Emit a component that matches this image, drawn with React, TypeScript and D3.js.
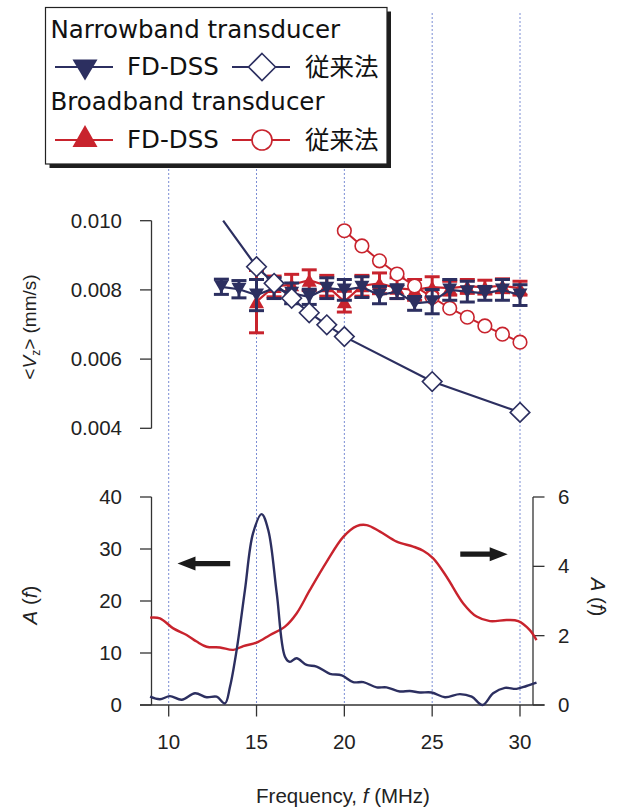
import React from "react";
import * as d3 from "d3";

// ---------- data ----------
const xTicks = [10, 15, 20, 25, 30];
const vzTicks = [0.004, 0.006, 0.008, 0.01];
const aLeftTicks = [0, 10, 20, 30, 40];
const aRightTicks = [0, 2, 4, 6];

// Narrowband FD-DSS
const nbFreq = [13, 14, 15, 16, 17, 18, 19, 20, 21, 22, 23, 24, 25, 26, 27, 28, 29, 30];
const nbVz = [0.00809, 0.00802, 0.00785, 0.00805, 0.0079, 0.0078, 0.00805, 0.008, 0.00808, 0.00785, 0.00795, 0.00761, 0.00766, 0.008, 0.00795, 0.0079, 0.008, 0.00785];
const nbErr = [0.00022, 0.00025, 0.00045, 0.0003, 0.0003, 0.00022, 0.0003, 0.0003, 0.0003, 0.00025, 0.0002, 0.0002, 0.00035, 0.0003, 0.0003, 0.0002, 0.0003, 0.0003];

// Broadband FD-DSS
const bbFreq = [15, 16, 17, 18, 19, 20, 21, 22, 23, 24, 25, 26, 27, 28, 29, 30];
const bbVz = [0.00766, 0.0081, 0.00815, 0.00828, 0.00812, 0.00766, 0.00812, 0.00819, 0.00805, 0.008, 0.00808, 0.00805, 0.0081, 0.00808, 0.00812, 0.00805];
const bbErr = [0.0009, 0.0003, 0.0003, 0.0003, 0.0003, 0.0003, 0.0003, 0.0003, 0.0003, 0.0003, 0.0003, 0.0002, 0.0002, 0.0002, 0.0002, 0.0002];

// Narrowband conventional (diamonds); line starts above the plot edge
const nbConvLineFreq = [13.1, 15, 16, 17, 18, 19, 20, 25, 30];
const nbConvLineVz = [0.01, 0.00867, 0.00819, 0.00776, 0.00734, 0.00699, 0.00665, 0.00535, 0.00446];
const nbConvFreq = [15, 16, 17, 18, 19, 20, 25, 30];
const nbConvVz = [0.00867, 0.00819, 0.00776, 0.00734, 0.00699, 0.00665, 0.00535, 0.00446];

// Broadband conventional (circles)
const bbConvFreq = [20, 21, 22, 23, 24, 25, 26, 27, 28, 29, 30];
const bbConvVz = [0.00971, 0.00927, 0.00884, 0.00846, 0.00811, 0.00779, 0.00747, 0.00721, 0.00696, 0.00672, 0.00649];

// Spectra
const nbSpecFreq = [8.94, 9.5, 10.07, 10.74, 11.5, 12.16, 12.73, 13.2, 13.49, 13.87, 14.34, 14.8, 15.29, 15.67, 16.15, 16.62, 16.9, 17.28, 17.85, 18.42, 19.18, 19.85, 20.5, 21.08, 21.84, 22.4, 23.16, 23.73, 24.3, 24.97, 25.73, 26.58, 27.25, 27.87, 28.47, 29.14, 29.8, 30.37, 30.94];
const nbSpecA = [1.6, 1.1, 1.7, 1.0, 2.25, 1.5, 1.6, 0.3, 3.5, 10.6, 22.1, 33, 36.7, 33.6, 21.5, 9.3, 8.3, 9.0, 7.7, 7.4, 6.0, 5.7, 4.4, 4.4, 3.4, 3.4, 2.6, 2.7, 2.4, 2.4, 1.5, 2.1, 1.6, 0, 2.25, 3.3, 3.1, 3.65, 4.3];
const bbSpecFreq = [8.94, 9.5, 10.26, 11.02, 11.59, 12.16, 12.92, 13.68, 14.25, 15.0, 15.77, 16.62, 17.28, 18.04, 18.99, 19.94, 20.7, 21.27, 22.03, 22.98, 23.92, 24.49, 25.06, 25.82, 26.77, 27.53, 28.29, 29.24, 29.9, 30.56, 30.94];
const bbSpecA = [2.52, 2.5, 2.21, 2.02, 1.83, 1.68, 1.66, 1.59, 1.7, 1.8, 2.02, 2.26, 2.64, 3.32, 4.13, 4.85, 5.16, 5.19, 5.0, 4.71, 4.57, 4.45, 4.23, 3.7, 2.93, 2.55, 2.42, 2.45, 2.42, 2.16, 1.87];

// Arrow annotations (frequency from -> to, at A value on left axis)
const leftArrowF = [13.5, 10.5];
const leftArrowA = 27.2;
const rightArrowF = [26.6, 29.3];
const rightArrowA = 29.0;

// ---------- styling ----------
const NAVY = "#2c2f60";
const RED = "#c8232d";
const GRID = "#7a8dd4";
const AXIS = "#333";
const NUMFONT = "'Liberation Sans', Arial, Helvetica, sans-serif";
const LEGFONT = "'DejaVu Sans', 'Noto Sans CJK JP', sans-serif";

export default function App() {
  const W = 617;
  const H = 810;
  const x = d3.scaleLinear().domain([10, 30]).range([168.7, 520]);
  const yTop = d3.scaleLinear().domain([0.004, 0.01]).range([428.3, 220.7]);
  const yL = d3.scaleLinear().domain([0, 40]).range([705, 497]);
  const yR = d3.scaleLinear().domain([0, 6]).range([705, 497]);
  const axL = 151.5;
  const axR = 533;

  const lineTop = d3
    .line<[number, number]>()
    .x((d) => x(d[0]))
    .y((d) => yTop(d[1]));
  const specL = d3
    .line<[number, number]>()
    .x((d) => x(d[0]))
    .y((d) => yL(d[1]))
    .curve(d3.curveCatmullRom.alpha(0.5));
  const specR = d3
    .line<[number, number]>()
    .x((d) => x(d[0]))
    .y((d) => yR(d[1]))
    .curve(d3.curveCatmullRom.alpha(0.5));

  const zip = (a: number[], b: number[]) => a.map((v, i) => [v, b[i]] as [number, number]);

  const triDown = (cx: number, cy: number, hw: number, h: number) =>
    `M${cx - hw},${cy - h / 2}L${cx + hw},${cy - h / 2}L${cx},${cy + h / 2}Z`;
  const triUp = (cx: number, cy: number, hw: number, h: number) =>
    `M${cx - hw},${cy + h / 2}L${cx + hw},${cy + h / 2}L${cx},${cy - h / 2}Z`;
  const diamond = (cx: number, cy: number, r: number) =>
    `M${cx},${cy - r}L${cx + r},${cy}L${cx},${cy + r}L${cx - r},${cy}Z`;

  const errBars = (fr: number[], vz: number[], er: number[], color: string) =>
    fr.map((f, i) => {
      const cx = x(f);
      const y1 = yTop(vz[i] + er[i]);
      const y2 = yTop(vz[i] - er[i]);
      return (
        <g key={i} stroke={color} strokeWidth={3}>
          <line x1={cx} x2={cx} y1={y1} y2={y2} />
          <line x1={cx - 7.5} x2={cx + 7.5} y1={y1} y2={y1} />
          <line x1={cx - 7.5} x2={cx + 7.5} y1={y2} y2={y2} />
        </g>
      );
    });

  const arrow = (fFrom: number, fTo: number, a: number) => {
    const x0 = x(fFrom);
    const x1 = x(fTo);
    const yy = yL(a);
    const dir = Math.sign(x1 - x0);
    const headLen = 18;
    const xb = x1 - dir * headLen;
    return (
      <path
        d={`M${x0},${yy - 2.6}L${xb},${yy - 2.6}L${xb},${yy - 7}L${x1},${yy}L${xb},${yy + 7}L${xb},${yy + 2.6}L${x0},${yy + 2.6}Z`}
        fill="#1a1a1a"
      />
    );
  };

  return (
    <svg
      width={W}
      height={H}
      viewBox={`0 0 ${W} ${H}`}
      style={{ position: "absolute", left: 0, top: 0, background: "#fff" }}
    >
      <rect x={0} y={0} width={W} height={H} fill="#fff" />

      {/* vertical dotted guide lines */}
      {xTicks.map((t) => (
        <line
          key={"g" + t}
          x1={x(t)}
          x2={x(t)}
          y1={13}
          y2={705}
          stroke={GRID}
          strokeWidth={1}
          strokeDasharray="2,2"
        />
      ))}

      {/* ---------- upper panel ---------- */}
      <line x1={axL} x2={axL} y1={yTop(0.004)} y2={yTop(0.01)} stroke={AXIS} strokeWidth={1.3} />
      {vzTicks.map((t) => (
        <g key={"vt" + t}>
          <line x1={axL - 11.5} x2={axL} y1={yTop(t)} y2={yTop(t)} stroke={AXIS} strokeWidth={1.3} />
          <text
            x={122}
            y={yTop(t) + 7}
            textAnchor="end"
            fontFamily={NUMFONT}
            fontSize={20.5}
            fill="#222"
          >
            {t.toFixed(3)}
          </text>
        </g>
      ))}
      <text
        transform={`translate(36,327) rotate(-90)`}
        textAnchor="middle"
        fontFamily={NUMFONT}
        fontSize={19}
        fill="#222"
      >
        {"<"}
        <tspan fontStyle="italic">V</tspan>
        <tspan fontSize={12} dy={4}>z</tspan>
        <tspan dy={-4}>{"> (mm/s)"}</tspan>
      </text>

      {/* broadband conventional circles line */}
      <path d={lineTop(zip(bbConvFreq, bbConvVz)) || ""} fill="none" stroke={RED} strokeWidth={2} />

      {/* broadband FD-DSS */}
      <path d={lineTop(zip(bbFreq, bbVz)) || ""} fill="none" stroke={RED} strokeWidth={2.2} />
      {errBars(bbFreq, bbVz, bbErr, RED)}
      {bbFreq.map((f, i) => (
        <path key={"bt" + i} d={triUp(x(f), yTop(bbVz[i]), 7.5, 13)} fill={RED} />
      ))}

      {/* broadband conventional circles */}
      {bbConvFreq.map((f, i) => (
        <circle key={"bc" + i} cx={x(f)} cy={yTop(bbConvVz[i])} r={6.8} fill="#fff" stroke={RED} strokeWidth={1.6} />
      ))}

      {/* narrowband FD-DSS */}
      <path d={lineTop(zip(nbFreq, nbVz)) || ""} fill="none" stroke={NAVY} strokeWidth={2.2} />
      {errBars(nbFreq, nbVz, nbErr, NAVY)}
      {nbFreq.map((f, i) => (
        <path key={"nt" + i} d={triDown(x(f), yTop(nbVz[i]), 7.5, 13)} fill={NAVY} />
      ))}

      {/* narrowband conventional diamonds */}
      <path d={lineTop(zip(nbConvLineFreq, nbConvLineVz)) || ""} fill="none" stroke={NAVY} strokeWidth={2.2} />
      {nbConvFreq.map((f, i) => (
        <path key={"nd" + i} d={diamond(x(f), yTop(nbConvVz[i]), 9.8)} fill="#fff" stroke={NAVY} strokeWidth={1.6} />
      ))}

      {/* ---------- lower panel ---------- */}
      <line x1={axL} x2={axL} y1={yL(0)} y2={yL(40)} stroke={AXIS} strokeWidth={1.3} />
      <line x1={axR} x2={axR} y1={yR(0)} y2={yR(6)} stroke={AXIS} strokeWidth={1.3} />
      <line x1={axL - 11.5} x2={axR + 11.5} y1={705} y2={705} stroke={AXIS} strokeWidth={1.3} />
      {aLeftTicks.map((t) => (
        <g key={"al" + t}>
          <line x1={axL - 11.5} x2={axL} y1={yL(t)} y2={yL(t)} stroke={AXIS} strokeWidth={1.3} />
          <text x={122} y={yL(t) + 7} textAnchor="end" fontFamily={NUMFONT} fontSize={20.5} fill="#222">
            {t}
          </text>
        </g>
      ))}
      {aRightTicks.map((t) => (
        <g key={"ar" + t}>
          <line x1={axR} x2={axR + 11.5} y1={yR(t)} y2={yR(t)} stroke={AXIS} strokeWidth={1.3} />
          <text x={558} y={yR(t) + 7} textAnchor="start" fontFamily={NUMFONT} fontSize={20.5} fill="#222">
            {t}
          </text>
        </g>
      ))}
      {xTicks.map((t) => (
        <g key={"xt" + t}>
          <line x1={x(t)} x2={x(t)} y1={705} y2={716.5} stroke={AXIS} strokeWidth={1.3} />
          <text x={x(t)} y={749} textAnchor="middle" fontFamily={NUMFONT} fontSize={20.5} fill="#222">
            {t}
          </text>
        </g>
      ))}
      <text x={343} y={803} textAnchor="middle" fontFamily={NUMFONT} fontSize={20.5} fill="#222">
        {"Frequency, "}
        <tspan fontStyle="italic">f</tspan>
        {" (MHz)"}
      </text>
      <text
        transform={`translate(37,605) rotate(-90)`}
        textAnchor="middle"
        fontFamily={NUMFONT}
        fontSize={20.5}
        fill="#222"
      >
        <tspan fontStyle="italic">A</tspan>
        {" ("}
        <tspan fontStyle="italic">f</tspan>
        {")"}
      </text>
      <text
        transform={`translate(591,597) rotate(90)`}
        textAnchor="middle"
        fontFamily={NUMFONT}
        fontSize={20.5}
        fill="#222"
      >
        <tspan fontStyle="italic">A</tspan>
        {" ("}
        <tspan fontStyle="italic">f</tspan>
        {")"}
      </text>

      <path d={specR(zip(bbSpecFreq, bbSpecA)) || ""} fill="none" stroke={RED} strokeWidth={2.4} />
      <path d={specL(zip(nbSpecFreq, nbSpecA)) || ""} fill="none" stroke={NAVY} strokeWidth={2.4} />

      {arrow(leftArrowF[0], leftArrowF[1], leftArrowA)}
      {arrow(rightArrowF[0], rightArrowF[1], rightArrowA)}

      {/* ---------- legend ---------- */}
      <rect x={49.5} y={11.5} width={341.5} height={156.5} fill="#1e1e1e" />
      <rect x={45.5} y={7.5} width={341.5} height={156.5} fill="#fff" stroke="#222" strokeWidth={1.2} />
      <g fontFamily={LEGFONT} fontSize={24.5} fill="#111">
        <text x={50.5} y={38}>Narrowband transducer</text>
        <line x1={55} x2={113} y1={67} y2={67} stroke={NAVY} strokeWidth={2.2} />
        <path d={triDown(85, 70, 12.5, 21)} fill={NAVY} />
        <text x={127} y={75}>FD-DSS</text>
        <line x1={232} x2={290} y1={67} y2={67} stroke={NAVY} strokeWidth={2.2} />
        <path d={diamond(262, 67, 13.5)} fill="#fff" stroke={NAVY} strokeWidth={1.6} />
        <text x={305} y={76} fontFamily="'Noto Sans CJK JP', sans-serif" fontSize={24.5}>従来法</text>

        <text x={50.5} y={110}>Broadband transducer</text>
        <line x1={55} x2={113} y1={140} y2={140} stroke={RED} strokeWidth={2.2} />
        <path d={triUp(85, 136, 12.5, 22)} fill={RED} />
        <text x={127} y={148}>FD-DSS</text>
        <line x1={232} x2={290} y1={140} y2={140} stroke={RED} strokeWidth={2.2} />
        <circle cx={262} cy={140} r={10} fill="#fff" stroke={RED} strokeWidth={1.6} />
        <text x={305} y={149} fontFamily="'Noto Sans CJK JP', sans-serif" fontSize={24.5}>従来法</text>
      </g>
    </svg>
  );
}
